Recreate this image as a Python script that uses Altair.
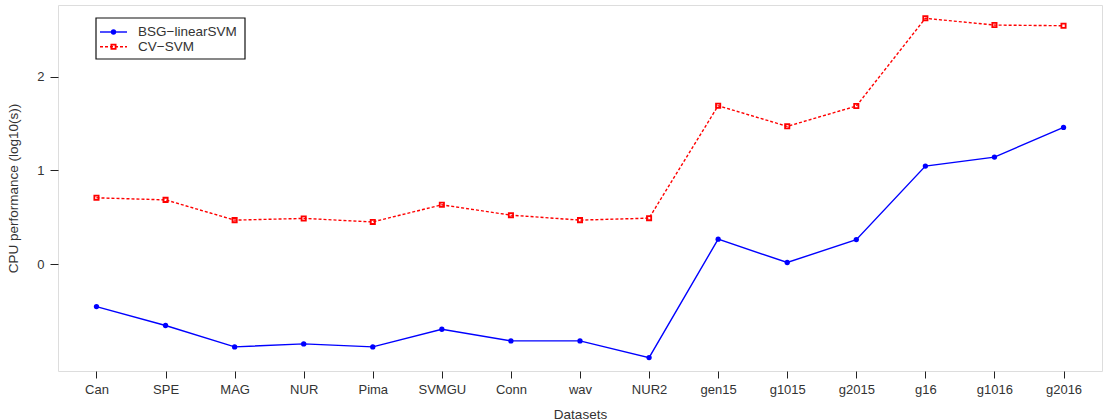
import altair as alt
import pandas as pd

datasets = ["Can", "SPE", "MAG", "NUR", "Pima", "SVMGU", "Conn", "wav", "NUR2",
            "gen15", "g1015", "g2015", "g16", "g1016", "g2016"]
bsg_linear_svm = [-0.452, -0.654, -0.882, -0.850, -0.882, -0.694, -0.818, -0.818, -0.996,
                  0.267, 0.018, 0.262, 1.046, 1.142, 1.459]
cv_svm = [0.708, 0.686, 0.470, 0.488, 0.451, 0.633, 0.523, 0.470, 0.491,
          1.690, 1.470, 1.686, 2.622, 2.550, 2.543]
series_names = ["BSG\u2212linearSVM", "CV\u2212SVM"]
y_ticks = [0, 1, 2]

df_b = pd.DataFrame({"dataset": datasets, "value": bsg_linear_svm})
df_r = pd.DataFrame({"dataset": datasets, "value": cv_svm})

FONT = "Liberation Sans"
TXT = "#333333"
W, H = 1044, 366

x_enc = alt.X("dataset:N", sort=datasets,
              scale=alt.Scale(type="point", padding=0.557),
              axis=alt.Axis(title="Datasets", labelAngle=0, domain=False,
                            tickSize=7, tickColor="#222", labelColor=TXT,
                            labelFontSize=13, labelFont=FONT, labelPadding=5,
                            titleFont=FONT, titleFontSize=13.5, titleFontWeight="normal",
                            titleColor=TXT, titlePadding=11))
y_enc = alt.Y("value:Q",
              scale=alt.Scale(domain=[-1.139, 2.764], nice=False, zero=False),
              axis=alt.Axis(title="CPU performance (log10(s))", values=y_ticks,
                            grid=False, domain=False, tickSize=8, tickColor="#222",
                            labelColor=TXT, labelFontSize=13, labelFont=FONT,
                            labelPadding=6, titleFont=FONT, titleFontSize=13.5,
                            titleFontWeight="normal", titleColor=TXT, titlePadding=16))

blue_line = alt.Chart(df_b).mark_line(color="#0000FF", strokeWidth=1.4).encode(x=x_enc, y=y_enc)
blue_pts = alt.Chart(df_b).mark_point(color="#0000FF", filled=True, shape="circle",
                                      size=28, opacity=1).encode(x=x_enc, y=y_enc)
red_line = alt.Chart(df_r).mark_line(color="#FF0000", strokeWidth=1.4,
                                     strokeDash=[3, 2]).encode(x=x_enc, y=y_enc)
red_pts = alt.Chart(df_r).mark_point(color="#FF0000", filled=False, shape="square",
                                     size=18, strokeWidth=1.8, opacity=1).encode(x=x_enc, y=y_enc)

# legend
leg_df = pd.DataFrame({"name": [series_names[0]]})
leg_df2 = pd.DataFrame({"name": [series_names[1]]})
box = alt.Chart(leg_df).mark_rect(fill="white", stroke="#111", strokeWidth=1.2).encode(
    x=alt.value(38), x2=alt.value(187), y=alt.value(13), y2=alt.value(54))
l1 = alt.Chart(leg_df).mark_rule(color="#0000FF", strokeWidth=1.4).encode(
    x=alt.value(42), x2=alt.value(69), y=alt.value(27))
p1 = alt.Chart(leg_df).mark_point(color="#0000FF", filled=True, shape="circle", size=28,
                                  opacity=1).encode(x=alt.value(55.5), y=alt.value(27))
t1 = alt.Chart(leg_df).mark_text(align="left", baseline="middle", font=FONT, fontSize=13.5,
                                 color=TXT).encode(x=alt.value(80), y=alt.value(27), text="name:N")
l2 = alt.Chart(leg_df2).mark_rule(color="#FF0000", strokeWidth=1.4, strokeDash=[3, 2]).encode(
    x=alt.value(42), x2=alt.value(69), y=alt.value(41.7))
p2 = alt.Chart(leg_df2).mark_point(color="#FF0000", filled=False, shape="square", size=18,
                                   strokeWidth=1.8, opacity=1).encode(x=alt.value(55.5), y=alt.value(41.7))
t2 = alt.Chart(leg_df2).mark_text(align="left", baseline="middle", font=FONT, fontSize=13.5,
                                  color=TXT).encode(x=alt.value(80), y=alt.value(41.7), text="name:N")

chart = alt.layer(red_line, red_pts, blue_line, blue_pts, box, l1, p1, t1, l2, p2, t2).properties(
    width=W, height=H,
    autosize=alt.AutoSizeParams(type="none"),
    padding={"left": 58, "top": 5, "right": 14, "bottom": 49},
).configure_view(stroke="#222", strokeWidth=1.3).configure(background="white")

chart.save("out.html", embed_options={"renderer": "svg", "actions": False})
